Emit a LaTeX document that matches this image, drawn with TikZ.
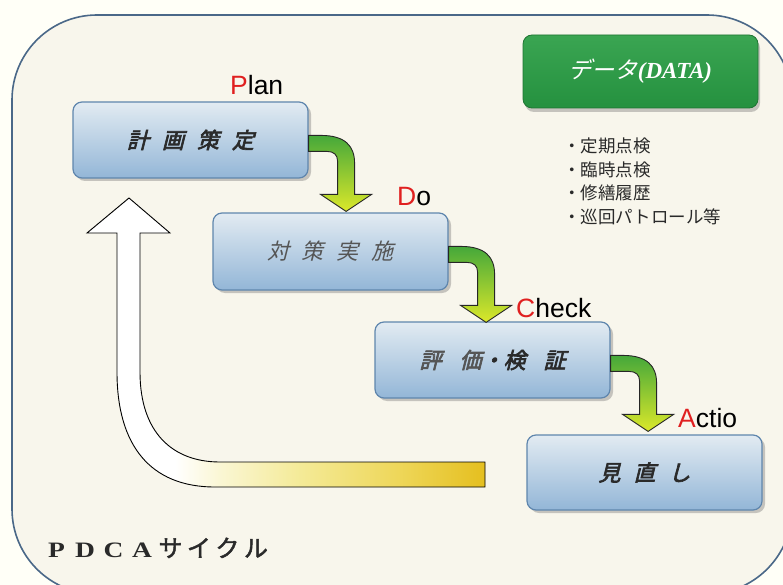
\documentclass[tikz,border=0pt]{standalone}
\usepackage{fontspec}
\setmainfont{Liberation Serif}
\newfontfamily\arialf{Liberation Sans}
\newfontfamily\jp{Noto Sans CJK JP}
\newfontfamily\jpb[FakeBold=2]{Noto Sans CJK JP}
\newfontfamily\jpbi[FakeSlant=0.25,FakeBold=3]{Noto Sans CJK JP}
\newfontfamily\jpi[FakeSlant=0.25]{Noto Sans CJK JP}
\usetikzlibrary{shadows,calc}
\definecolor{cream}{HTML}{F8F6EC}
\definecolor{framec}{HTML}{4A6888}
\definecolor{boxtop}{HTML}{E2EBF2}
\definecolor{boxbot}{HTML}{93B6D7}
\definecolor{boxline}{HTML}{5F86AD}
\definecolor{argreen}{HTML}{45A83A}
\definecolor{aryellow}{HTML}{DCE82A}
\definecolor{dgreen1}{HTML}{3AA552}
\definecolor{dgreen2}{HTML}{25913F}
\definecolor{cA}{HTML}{FAF6D2}
\definecolor{cB}{HTML}{F4EA96}
\definecolor{cC}{HTML}{EED75A}
\definecolor{cD}{HTML}{E5BF1F}
\definecolor{txt}{HTML}{2A2A2A}
\definecolor{gtxt}{HTML}{555555}
\definecolor{lred}{HTML}{E02020}
\pgfdeclarehorizontalshading{bigarrowsh}{100bp}{color(0bp)=(white); color(36bp)=(white); color(42bp)=(cA); color(52bp)=(cB); color(64bp)=(cC); color(75bp)=(cD); color(100bp)=(cD)}
\tikzset{
  stepbox/.style={draw=boxline, line width=1.2pt, rounded corners=9pt,
    top color=boxtop, bottom color=boxbot, minimum width=235pt, minimum height=76pt,
    inner sep=0pt, font=\jpbi\fontsize{22pt}{26pt}\selectfont, text=txt,
    drop shadow={shadow xshift=3pt, shadow yshift=-3pt, opacity=0.35, fill=black!60}},
  phase/.style={font=\arialf\fontsize{26.5pt}{30pt}\selectfont, inner sep=0pt, anchor=base west},
  garrow/.style={draw=black!85, line width=0.9pt, top color=argreen, bottom color=aryellow},
}
\newcommand{\wl}[1]{\makebox[28.5pt]{\scalebox{1.25}[1]{#1}}}
\begin{document}
\begin{tikzpicture}[x=1pt,y=-1pt]
\useasboundingbox (0,0) rectangle (783,585);
\fill[white!97!yellow] (0,0) rectangle (783,585);
\draw[framec, line width=1.6pt, fill=cream, rounded corners=85pt] (12,15) rectangle (792,594);

% big return arrow
\draw[black, line width=0.9pt, shading=bigarrowsh]
  (117,233) -- (117,372) .. controls (117,445) and (150,487) .. (215,487)
  -- (485,487) -- (485,462) -- (220,462)
  .. controls (172,462) and (140,432) .. (140,372)
  -- (140,233) -- (170,233) -- (129,198) -- (87,233) -- cycle;

% step boxes
\node[stepbox] (plan) at (190.5,140) {計\hspace{13pt}画\hspace{13pt}策\hspace{13pt}定};
\node[stepbox, minimum height=77pt] (do) at (330.5,251.5) {\color{gtxt}\jpi 対\hspace{13pt}策\hspace{13pt}実\hspace{13pt}施};
\node[stepbox] (check) at (492.5,360) {{\color{gtxt}評\hspace{18pt}価}・検\hspace{18pt}証};
\node[stepbox, minimum height=75pt] (act) at (644.5,472.5) {見\hspace{13pt}直\hspace{13pt}し};

% green bent arrows
\foreach \b in {plan,do,check}{
  \begin{scope}[shift={(\b.north east)}]
    \draw[garrow] (0,34) -- (12,34) .. controls (36,34) and (46,44) .. (46,62)
      -- (46,93) -- (63,93) -- (37.5,110) -- (12,93) -- (29,93) -- (29,60)
      .. controls (29,53) and (25,50) .. (18,50) -- (0,50) -- cycle;
  \end{scope}
}

% phase labels
\node[phase] (lplan) at (230,95) {{\color{lred}P}lan};
\node[phase] (ldo) at (397,205) {{\color{lred}D}o};
\node[phase] (lcheck) at (516,317) {{\color{lred}C}heck};
\node[phase] (lact) at (678,427) {{\color{lred}A}ctio};

% data box
\node[draw=dgreen2!80!black, line width=0.8pt, rounded corners=9pt, top color=dgreen1, bottom color=dgreen2,
  minimum width=235pt, minimum height=73pt, inner sep=0pt, text=white,
  drop shadow={shadow xshift=2pt, shadow yshift=-4pt, opacity=0.35, fill=black!60}]
  (data) at (640.5,71.5) {{\jpi\fontsize{23pt}{26pt}\selectfont データ}{\fontsize{23pt}{26pt}\selectfont\bfseries\itshape (DATA)}};

\node[anchor=north west, inner sep=0pt, align=left, text=txt,
  font=\jp\fontsize{17.5pt}{23.5pt}\selectfont] (datalist) at (563,138)
  {・定期点検\\・臨時点検\\・修繕履歴\\・巡回パトロール等};

% title
\node[anchor=base west, inner sep=0pt, text=txt] (title) at (42,557)
  {\fontsize{22pt}{24pt}\selectfont\bfseries\wl{P}\wl{D}\wl{C}\wl{A}%
   {\jpb\mdseries\fontsize{24pt}{26pt}\selectfont\makebox[28.5pt]{サ}\makebox[28.5pt]{イ}\makebox[28.5pt]{ク}\makebox[28.5pt]{ル}}};
\end{tikzpicture}
\end{document}
